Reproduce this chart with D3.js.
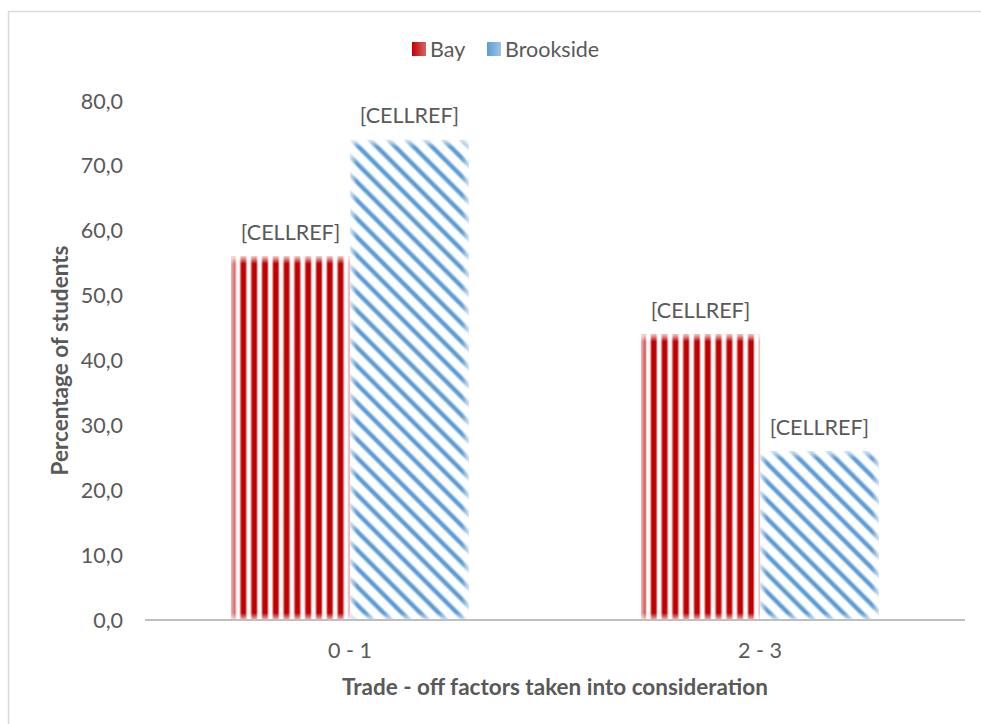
<!DOCTYPE html>
<html><head><meta charset="utf-8">
<script src="https://cdn.jsdelivr.net/npm/d3@7"></script>
<style>body{margin:0;background:#fff}svg{display:block}</style>
</head><body><svg id="c" width="981" height="724"></svg>
<script>
const categories = ["0 - 1", "2 - 3"];
const seriesNames = ["Bay", "Brookside"];
const bayValues = [56.0, 44.0];
const brooksideValues = [74.0, 26.0];
const dataLabels = ["[CELLREF]", "[CELLREF]"];
const yTicks = [0, 10, 20, 30, 40, 50, 60, 70, 80];
const xTitle = "Trade - off factors taken into consideration";
const yTitle = "Percentage of students";

const svg = d3.select("#c");
const font = "Lato, 'Open Sans', sans-serif";
const fs = 21.5;
const fsTitle = 22.5;
const txt = "#595959";
const m = {l:145, r:965, t:101, b:620};

svg.append("rect").attr("x",8.5).attr("y",11.5).attr("width",990).attr("height",730)
  .attr("fill","#fff").attr("stroke","#d9d9d9").attr("stroke-width",1.5);

const defs = svg.append("defs");
// vertical red stripes
const pr = defs.append("pattern").attr("id","pRed").attr("patternUnits","userSpaceOnUse")
  .attr("width",10.8).attr("height",10);
pr.append("rect").attr("width",10.8).attr("height",10).attr("fill","#fff");
const gr = defs.append("linearGradient").attr("id","gStripe").attr("x1",0).attr("x2",1).attr("y1",0).attr("y2",0);
gr.append("stop").attr("offset","0%").attr("stop-color","#c00000").attr("stop-opacity",0.15);
gr.append("stop").attr("offset","25%").attr("stop-color","#c00000").attr("stop-opacity",1);
gr.append("stop").attr("offset","75%").attr("stop-color","#c00000").attr("stop-opacity",1);
gr.append("stop").attr("offset","100%").attr("stop-color","#c00000").attr("stop-opacity",0.15);
pr.append("rect").attr("x",2).attr("width",7.6).attr("height",10).attr("fill","url(#gStripe)");

// diagonal blue stripes
const pb = defs.append("pattern").attr("id","pBlue").attr("patternUnits","userSpaceOnUse")
  .attr("width",13).attr("height",13).attr("patternTransform","rotate(45)");
pb.append("rect").attr("width",13).attr("height",13).attr("fill","#fff");
const gb = defs.append("linearGradient").attr("id","gStripeB").attr("x1",0).attr("x2",0).attr("y1",0).attr("y2",1);
gb.append("stop").attr("offset","0%").attr("stop-color","#5b9bd5").attr("stop-opacity",0.1);
gb.append("stop").attr("offset","35%").attr("stop-color","#5b9bd5").attr("stop-opacity",1);
gb.append("stop").attr("offset","65%").attr("stop-color","#5b9bd5").attr("stop-opacity",1);
gb.append("stop").attr("offset","100%").attr("stop-color","#5b9bd5").attr("stop-opacity",0.1);
pb.append("rect").attr("y",3).attr("width",13).attr("height",6.4).attr("fill","url(#gStripeB)");

// edge glow gradients
function edge(id,x1,y1,x2,y2){
  const g = defs.append("linearGradient").attr("id",id).attr("x1",x1).attr("y1",y1).attr("x2",x2).attr("y2",y2);
  g.append("stop").attr("offset","0%").attr("stop-color","#fff").attr("stop-opacity",0.75);
  g.append("stop").attr("offset","100%").attr("stop-color","#fff").attr("stop-opacity",0);
}
edge("eL",0,0,1,0); edge("eR",1,0,0,0); edge("eT",0,0,0,1); edge("eB",0,1,0,0);
const lg = defs.append("linearGradient").attr("id","legR").attr("x1",0).attr("x2",1).attr("y1",0).attr("y2",0);
lg.append("stop").attr("offset","0%").attr("stop-color","#fff").attr("stop-opacity",0);
lg.append("stop").attr("offset","100%").attr("stop-color","#fff").attr("stop-opacity",0.4);

const y = d3.scaleLinear().domain([0,80]).range([m.b,m.t]);
const x0 = d3.scaleBand().domain(categories).range([m.l,m.r]).paddingInner(0.42).paddingOuter(0.21);
const x1 = d3.scaleBand().domain(seriesNames).range([0,x0.bandwidth()]);

const rows = [];
categories.forEach((c,i)=>{
  rows.push({cat:c, s:"Bay", v:bayValues[i], fill:"url(#pRed)", label:dataLabels[0]});
  rows.push({cat:c, s:"Brookside", v:brooksideValues[i], fill:"url(#pBlue)", label:dataLabels[1]});
});

// y ticks
svg.append("g").selectAll("text").data(yTicks).join("text")
  .attr("x",123).attr("y",d=>y(d)).attr("dy","0.35em").attr("text-anchor","end")
  .attr("font-family",font).attr("font-size",fs).attr("fill",txt)
  .text(d=>d3.format(".1f")(d).replace(".",","));

const bars = svg.append("g").selectAll("g").data(rows).join("g");
bars.each(function(d){
  const g = d3.select(this);
  const bx = x0(d.cat)+x1(d.s), bw = x1.bandwidth(), by = y(d.v), bh = y(0)-y(d.v);
  g.append("rect").attr("x",bx).attr("y",by).attr("width",bw).attr("height",bh).attr("fill",d.fill);
  const e = 7;
  g.append("rect").attr("x",bx).attr("y",by).attr("width",e).attr("height",bh).attr("fill","url(#eL)");
  g.append("rect").attr("x",bx+bw-e).attr("y",by).attr("width",e).attr("height",bh).attr("fill","url(#eR)");
  g.append("rect").attr("x",bx).attr("y",by).attr("width",bw).attr("height",e).attr("fill","url(#eT)");
  g.append("rect").attr("x",bx).attr("y",by+bh-e).attr("width",bw).attr("height",e).attr("fill","url(#eB)");
  g.append("text").attr("x",bx+bw/2).attr("y",by-24).attr("dy","0.35em").attr("text-anchor","middle")
    .attr("font-family",font).attr("font-size",fs).attr("fill",txt).text(d.label);
});

// x axis line
svg.append("line").attr("x1",m.l).attr("x2",m.r).attr("y1",y(0)).attr("y2",y(0))
  .attr("stroke","#bfbfbf").attr("stroke-width",2);

svg.append("g").selectAll("text").data(categories).join("text")
  .attr("x",d=>x0(d)+x0.bandwidth()/2).attr("y",650).attr("dy","0.35em").attr("text-anchor","middle")
  .attr("font-family",font).attr("font-size",fs).attr("fill",txt).text(d=>d);

svg.append("text").attr("x",(m.l+m.r)/2).attr("y",687).attr("dy","0.35em").attr("text-anchor","middle")
  .attr("font-family",font).attr("font-size",fsTitle).attr("font-weight","bold").attr("fill",txt).text(xTitle);

svg.append("text").attr("transform",`translate(60,${(m.t+m.b)/2}) rotate(-90)`).attr("dy","0.35em")
  .attr("text-anchor","middle").attr("font-family",font).attr("font-size",fsTitle).attr("font-weight","bold")
  .attr("fill",txt).text(yTitle);

// legend
const leg = svg.append("g");
const legItems = [{n:seriesNames[0], c:"#c00000", x:412},{n:seriesNames[1], c:"#5b9bd5", x:487}];
legItems.forEach(it=>{
  leg.append("rect").attr("x",it.x).attr("y",42).attr("width",14).attr("height",14).attr("fill",it.c);
  leg.append("rect").attr("x",it.x).attr("y",42).attr("width",14).attr("height",14).attr("fill","url(#legR)");
  leg.append("text").attr("x",it.x+18).attr("y",49).attr("dy","0.35em").attr("font-family",font)
    .attr("font-size",fs).attr("fill",txt).text(it.n);
});
</script></body></html>
